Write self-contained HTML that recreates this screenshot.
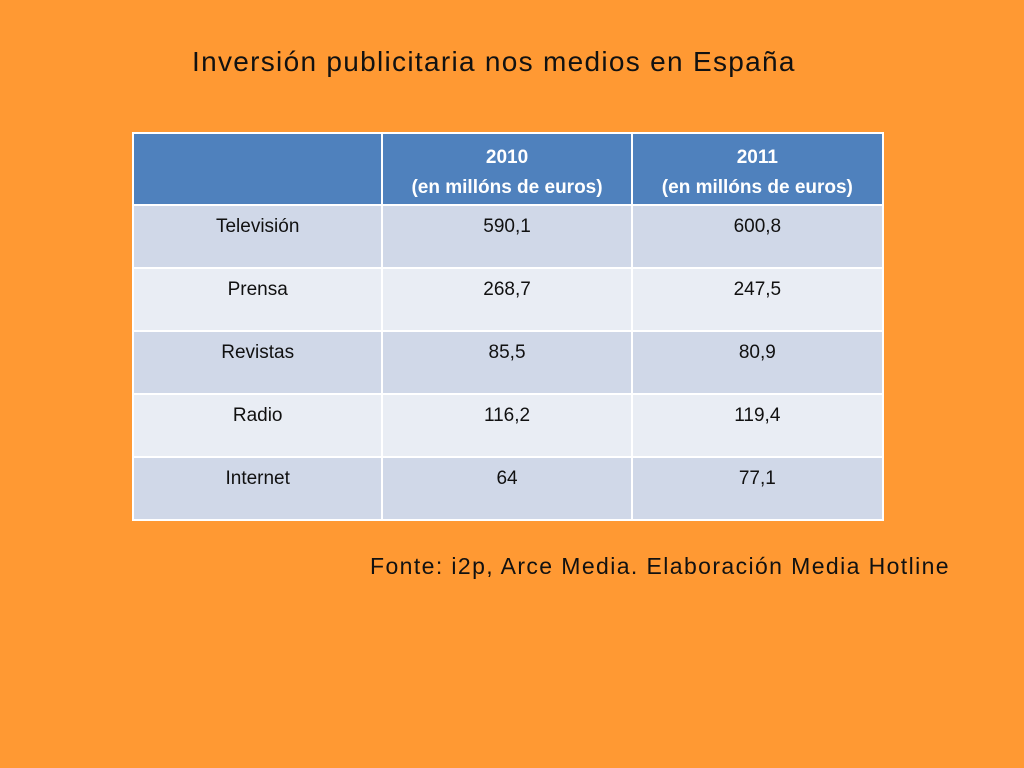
<!DOCTYPE html>
<html><head><meta charset="utf-8"><style>
body{margin:0;width:1024px;height:768px;background:#FF9933;font-family:"Liberation Sans",sans-serif;position:relative;overflow:hidden}
#title{position:absolute;left:192px;top:46px;font-size:28px;color:#111;letter-spacing:1.3px;white-space:nowrap}
table{position:absolute;left:132px;top:132px;border-collapse:collapse;width:752px}
td{border:2px solid #fff;text-align:center;vertical-align:top;font-size:19px;color:#111;padding:10px 0 0 0;box-sizing:border-box}
tr.h td{background:#4F81BD;color:#fff;font-weight:bold;height:72px;padding-top:9px;line-height:30px;font-size:19px}
tr.o td{background:#D0D8E8;height:63px}
tr.e td{background:#E9EDF4;height:63px}
#src{position:absolute;left:370px;top:553px;font-size:23px;color:#111;white-space:nowrap;letter-spacing:1.4px}
</style></head><body>
<div id="title">Inversión publicitaria nos medios en España</div>
<table>
<colgroup><col style="width:250px"><col style="width:250px"><col style="width:252px"></colgroup>
<tr class="h"><td></td><td>2010<br>(en millóns de euros)</td><td>2011<br>(en millóns de euros)</td></tr>
<tr class="o"><td>Televisión</td><td>590,1</td><td>600,8</td></tr>
<tr class="e"><td>Prensa</td><td>268,7</td><td>247,5</td></tr>
<tr class="o"><td>Revistas</td><td>85,5</td><td>80,9</td></tr>
<tr class="e"><td>Radio</td><td>116,2</td><td>119,4</td></tr>
<tr class="o"><td>Internet</td><td>64</td><td>77,1</td></tr>
</table>
<div id="src">Fonte: i2p, Arce Media. Elaboración Media Hotline</div>
</body></html>
